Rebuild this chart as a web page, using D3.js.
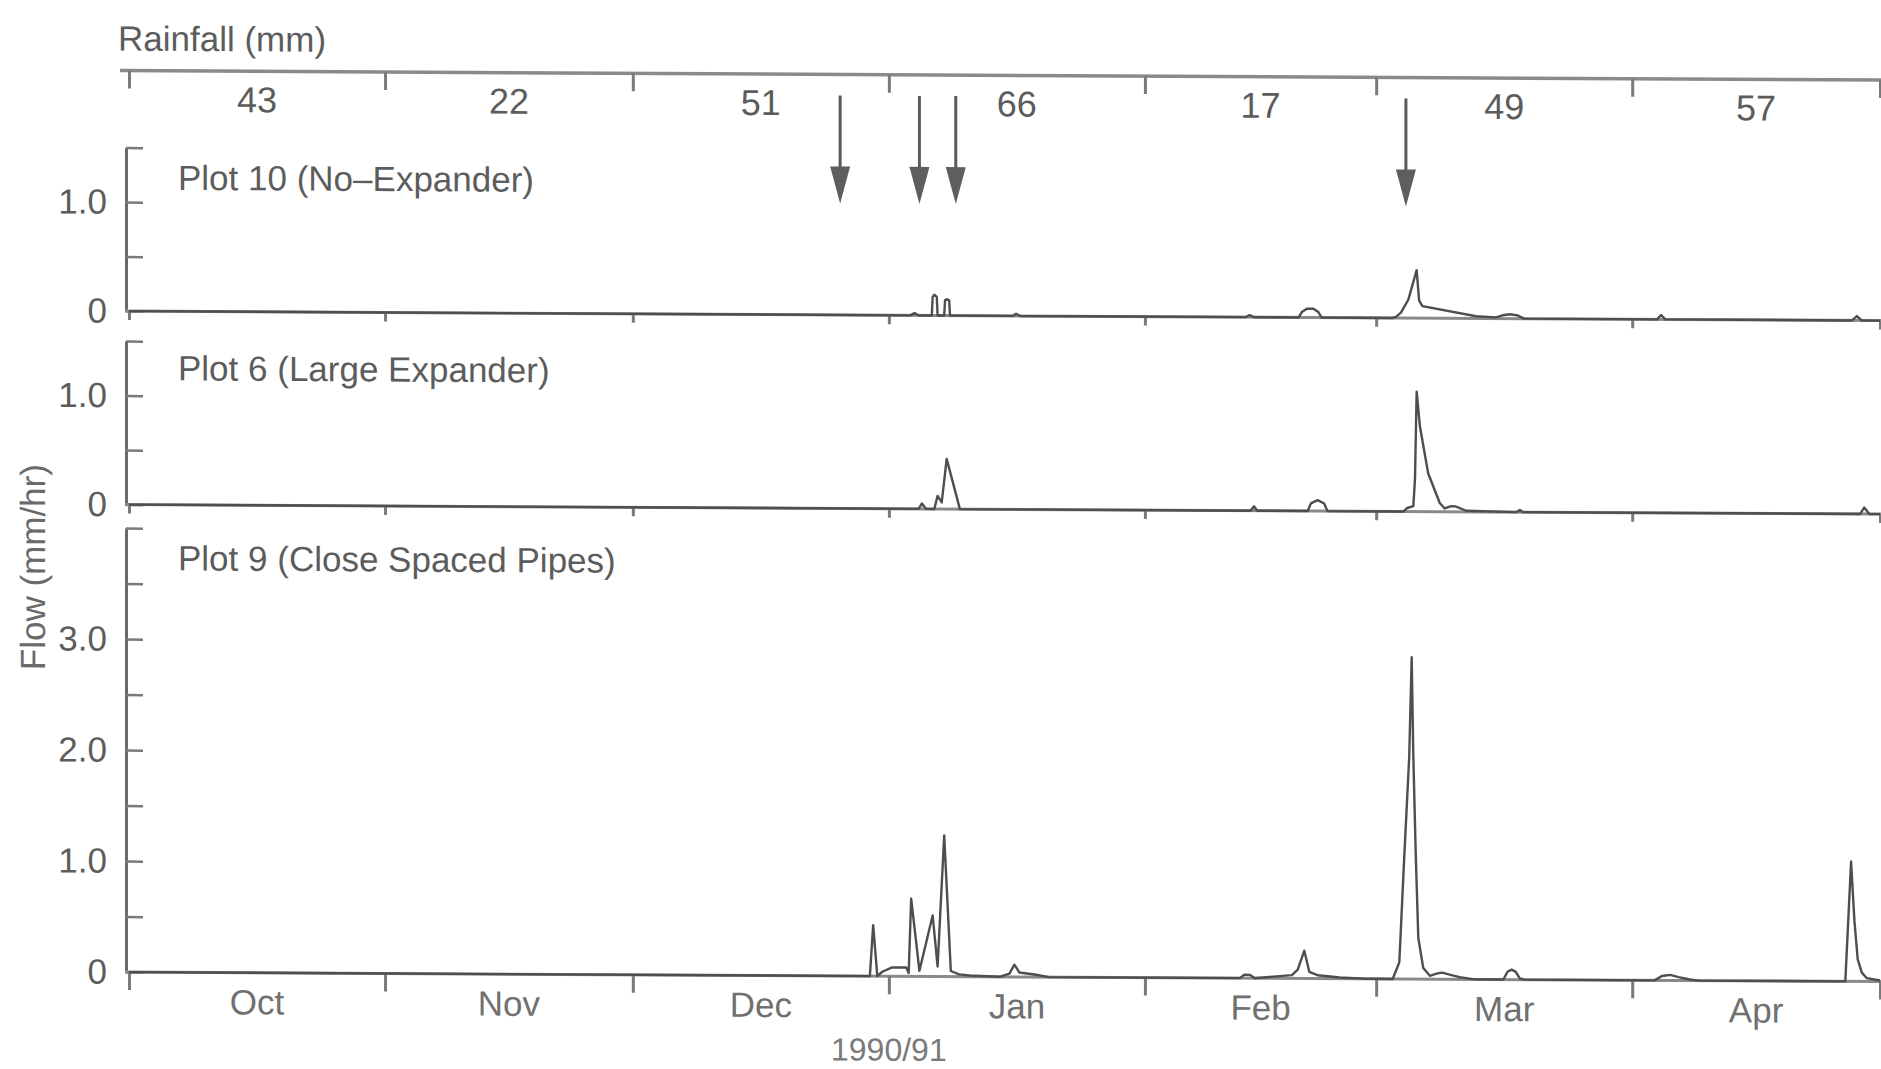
<!DOCTYPE html>
<html>
<head>
<meta charset="utf-8">
<script src="https://cdn.jsdelivr.net/npm/d3@7"></script>
<style>
  body { margin: 0; background: #fff; }
  svg { display: block; font-family: "Liberation Sans", Arial, sans-serif; }
</style>
</head>
<body>
<svg id="chart" width="1881" height="1069"></svg>
<script>
// months of the 1990/91 season and monthly rainfall (mm)
const months = ["Oct", "Nov", "Dec", "Jan", "Feb", "Mar", "Apr"];
const rainfall = [43, 22, 51, 66, 17, 49, 57];
// arrows, in days after 1 Oct 1990
const arrowDays = [86.1, 95.7, 100.1, 154.6];

// flow (mm/hr): [days after 1 Oct 1990, value]
const plot10 = [[0,0],[94.6,0],[95.1,0.02],[95.6,0],[97.2,0],[97.3,0.17],[97.5,0.19],[97.8,0.17],[97.9,0],
  [98.7,0],[98.8,0.14],[99.0,0.15],[99.3,0.14],[99.4,0],[107.0,0],[107.4,0.02],[107.9,0],[135.2,0],[135.7,0.02],
  [136.2,0],[141.6,0],[142.0,0.05],[142.6,0.08],[143.4,0.08],[144.0,0.05],[144.4,0],[153.0,0],[153.4,0.01],
  [154.0,0.05],[154.9,0.17],[155.9,0.44],[156.2,0.16],[156.6,0.11],[163.1,0.02],[165.5,0.01],[166.3,0.03],
  [167.2,0.04],[168.1,0.03],[168.9,0],[185.0,0],[185.5,0.04],[186.0,0],[208.6,0],[209.2,0.04],[209.8,0],[212,0]];

const plot6 = [[0,0],[95.6,0],[96.0,0.05],[96.5,0],[97.5,0],[97.9,0.12],[98.4,0.06],[99.0,0.46],[100.6,0],
  [135.8,0],[136.2,0.04],[136.6,0],[142.7,0],[143.1,0.07],[143.9,0.1],[144.7,0.07],[145.1,0],[154.3,0],
  [154.7,0.03],[155.5,0.05],[155.7,0.3],[155.9,1.1],[156.3,0.78],[157.3,0.35],[158.7,0.08],[159.3,0.03],
  [160.0,0.05],[160.6,0.05],[161.9,0.01],[168.0,0],[168.4,0.02],[168.8,0],[209.6,0],[210.1,0.06],[210.7,0],[212,0]];

const plot9 = [[0,0],[89.7,0],[90.1,0.46],[90.6,0],[91.2,0.04],[92.4,0.08],[94.1,0.08],[94.4,0.03],[94.7,0.7],
  [95.7,0.05],[97.3,0.55],[97.9,0.09],[98.7,1.27],[99.5,0.05],[100.5,0.02],[101.8,0.01],[105.4,0],[106.6,0.03],
  [107.2,0.11],[107.8,0.04],[109.8,0.02],[111.4,0],[134.5,0],[135.0,0.03],[135.7,0.03],[136.3,0],[140.8,0.03],
  [141.5,0.08],[142.3,0.25],[142.9,0.06],[143.9,0.03],[146.6,0.01],[150.2,0],[153.0,0],[153.8,0.15],[154.4,1.1],
  [155.0,2.0],[155.3,2.9],[155.5,2.0],[155.8,1.1],[156.1,0.37],[156.7,0.1],[157.5,0.03],[158.3,0.05],[159.0,0.06],
  [160.0,0.04],[161.1,0.02],[162.9,0],[166.4,0],[166.9,0.07],[167.4,0.09],[167.9,0.07],[168.4,0.01],[169,0],
  [184.7,0],[185.6,0.04],[186.6,0.05],[187.6,0.03],[189,0.01],[190,0],[207.8,0],[208.5,1.08],[208.9,0.55],
  [209.3,0.2],[209.8,0.08],[210.4,0.03],[212,0.01]];

const start = Date.UTC(1990, 9, 1);
const toDate = d => new Date(start + d * 864e5);

const axisColor = "#7a7a7a";
const textColor = "#5c5c5c";

const svg = d3.select("#chart");
// the scan is slightly tilted, so skew the whole drawing a little
const g = svg.append("g")
  .attr("transform", "translate(940,0) skewY(0.31) translate(-940,0)");

const x = d3.scaleUtc()
  .domain([start, Date.UTC(1991, 4, 1)])
  .range([129, 1880]);

const monthStarts = d3.utcMonth.range(new Date(start), new Date(Date.UTC(1991, 4, 2)));
const monthMid = months.map((m, i) => new Date((+monthStarts[i] + +monthStarts[i + 1]) / 2));

//Rainfall axis on top
g.append("text")
  .attr("x", 118).attr("y", 55)
  .attr("font-size", 35).attr("fill", textColor)
  .text("Rainfall (mm)");

g.append("line")
  .attr("x1", 120).attr("x2", 1881)
  .attr("y1", 75).attr("y2", 75)
  .attr("stroke", "#8a8a8a").attr("stroke-width", 3.5);

const rainAxis = g.append("g")
  .attr("transform", "translate(0,75)")
  .call(d3.axisBottom(x).tickValues(monthStarts).tickSize(18).tickFormat(""));
rainAxis.select(".domain").remove();
rainAxis.selectAll("line").attr("stroke", axisColor).attr("stroke-width", 3);

g.selectAll(".rain")
  .data(rainfall)
  .join("text")
  .attr("class", "rain")
  .attr("x", (d, i) => x(monthMid[i]))
  .attr("y", 116)
  .attr("text-anchor", "middle")
  .attr("font-size", 36).attr("fill", textColor)
  .text(d => d);

//Arrows
arrowDays.forEach(d => {
  const ax = x(toDate(d));
  g.append("line")
    .attr("x1", ax).attr("x2", ax)
    .attr("y1", 96).attr("y2", 175)
    .attr("stroke", "#5a5a5a").attr("stroke-width", 3);
  g.append("path")
    .attr("d", `M${ax - 10},167 L${ax + 10},167 L${ax},204 Z`)
    .attr("fill", "#5e5e5e");
});

//The three flow panels
const panels = [
  { label: "Plot 10 (No–Expander)", data: plot10, top: 1.5, y0: 315.5, unit: 109, labelDy: 42, tick: 9 },
  { label: "Plot 6 (Large Expander)", data: plot6, top: 1.5, y0: 509, unit: 109, labelDy: 39, tick: 9 },
  { label: "Plot 9 (Close Spaced Pipes)", data: plot9, top: 4, y0: 976.5, unit: 111, labelDy: 42, tick: 18 }
];

panels.forEach(p => {
  const y = d3.scaleLinear()
    .domain([0, p.top])
    .range([p.y0, p.y0 - p.top * p.unit]);

  const yAxis = g.append("g")
    .attr("transform", "translate(126,0)")
    .call(d3.axisLeft(y)
      .tickValues(d3.range(0, p.top + 0.001, 0.5))
      .tickSizeInner(-17).tickSizeOuter(0).tickPadding(19)
      .tickFormat(d => d === 0 ? "0" : (d % 1 === 0 && d < p.top ? d.toFixed(1) : "")));
  yAxis.attr("font-size", 35).attr("font-family", null);
  yAxis.select(".domain").attr("stroke", "#6a6a6a").attr("stroke-width", 3);
  yAxis.selectAll("line").attr("stroke", axisColor).attr("stroke-width", 2.5);
  yAxis.selectAll("text").attr("fill", textColor);

  // baseline and month ticks
  g.append("line")
    .attr("x1", 125).attr("x2", 1881)
    .attr("y1", p.y0).attr("y2", p.y0)
    .attr("stroke", "#8a8a8a").attr("stroke-width", 3);
  const xAxis = g.append("g")
    .attr("transform", "translate(0," + p.y0 + ")")
    .call(d3.axisBottom(x).tickValues(monthStarts).tickSize(p.tick).tickFormat(""));
  xAxis.select(".domain").remove();
  xAxis.selectAll("line").attr("stroke", axisColor).attr("stroke-width", 3);

  const line = d3.line()
    .x(d => x(toDate(d[0])))
    .y(d => y(d[1]));

  g.append("path")
    .datum(p.data)
    .attr("d", line)
    .attr("fill", "none")
    .attr("stroke", "#4e4e4e")
    .attr("stroke-width", 2.4)
    .attr("stroke-linejoin", "round");

  g.append("text")
    .attr("x", 178)
    .attr("y", y(p.top) + p.labelDy)
    .attr("font-size", 35).attr("fill", textColor)
    .text(p.label);
});

//Month labels and axis titles
g.selectAll(".month")
  .data(months)
  .join("text")
  .attr("class", "month")
  .attr("x", (d, i) => x(monthMid[i]))
  .attr("y", 1018)
  .attr("text-anchor", "middle")
  .attr("font-size", 35).attr("fill", "#707070")
  .text(d => d);

g.append("text")
  .attr("x", x(monthStarts[3]))
  .attr("y", 1061)
  .attr("text-anchor", "middle")
  .attr("font-size", 32).attr("fill", "#7a7a7a")
  .text("1990/91");

g.append("text")
  .attr("transform", "translate(45,572) rotate(-90)")
  .attr("text-anchor", "middle")
  .attr("font-size", 35).attr("fill", "#6a6a6a")
  .text("Flow (mm/hr)");
</script>
</body>
</html>
